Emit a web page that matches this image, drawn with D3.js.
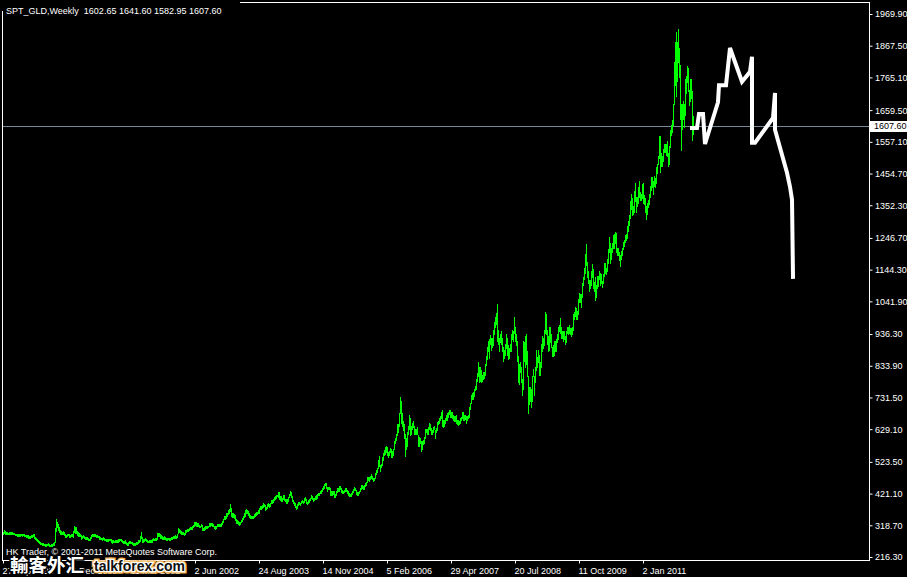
<!DOCTYPE html>
<html><head><meta charset="utf-8">
<script src="https://cdn.jsdelivr.net/npm/d3@7"></script>
<style>html,body{margin:0;padding:0;background:#000;overflow:hidden}svg{display:block}</style>
</head><body><svg id="c" width="907" height="577"></svg>
<script>
const chartTitle = "SPT_GLD,Weekly  1602.65 1641.60 1582.95 1607.60";
const copyright = "HK Trader, \u00a9 2001-2011 MetaQuotes Software Corp.";
const watermarkCn = "輸客外汇";
const watermarkEn = "talkforex.com";
const firstWeek = "27 Sep 1998";
// weekly lows / highs, one row per calendar year (1998 Q4 .. 2011)
const weekLow = [
290,293,290,290,289,289,290,292,292,291,290,289,287,286,
285,284,285,285,286,285,286,285,283,282,281,279,278,279,280,282,283,278,275,272,268,264,260,258,258,256,256,254,252,253,254,255,252,252,253,253,254,256,264,300,312,305,296,290,291,292,292,287,280,280,283,287,
280,280,283,283,282,298,295,293,288,285,285,283,276,277,280,277,274,274,275,271,270,272,278,284,285,285,283,281,280,280,275,274,273,272,274,272,270,268,268,268,270,270,266,263,264,264,265,264,265,266,268,270,268,
264,262,262,262,258,255,255,262,263,260,258,255,254,255,257,258,262,265,268,278,265,265,268,270,267,264,264,265,265,265,266,270,270,272,271,275,283,285,278,278,276,276,276,275,272,272,273,272,272,275,276,277,
277,278,279,280,293,296,293,292,290,290,288,291,298,300,300,302,306,306,308,312,318,320,318,318,315,312,312,315,305,302,305,308,310,310,312,318,318,320,318,315,310,308,310,316,318,316,316,316,322,330,340,340,
343,350,355,360,365,350,345,345,342,335,325,326,322,320,322,328,333,340,345,350,360,358,352,345,342,342,342,342,345,350,352,355,357,360,370,372,375,378,380,368,370,375,380,378,380,390,392,395,400,405,408,412,
410,405,400,397,398,402,400,396,390,392,398,410,418,410,396,390,385,378,372,375,385,388,384,390,393,390,395,400,392,388,390,395,400,406,403,398,400,405,405,408,415,418,422,424,430,435,440,448,440,430,435,435,
418,418,418,420,410,410,418,425,428,430,435,425,423,422,425,428,430,422,418,414,414,413,420,425,433,432,420,418,418,422,428,435,438,435,435,445,450,458,465,463,468,470,468,462,465,470,485,490,505,510,495,508,
512,530,545,550,555,545,540,545,555,538,540,545,565,585,595,610,620,640,680,650,640,625,600,542,565,575,615,630,610,615,630,635,615,615,612,615,575,575,585,560,565,580,585,600,620,612,615,630,625,615,615,620,630,
602,620,625,645,648,660,665,640,636,640,650,660,660,670,678,670,670,665,660,655,655,650,645,642,645,650,660,665,660,660,662,650,660,665,670,695,715,725,725,735,755,760,785,800,780,785,780,785,790,795,805,835,
855,880,860,905,885,895,900,935,960,970,915,905,880,910,905,880,850,860,870,890,870,855,860,880,880,920,915,940,915,900,850,780,775,815,780,740,760,850,830,840,800,680,710,720,700,720,800,740,780,820,830,845,
805,805,830,880,890,900,940,935,905,880,885,910,895,865,865,870,880,880,910,920,945,940,925,925,915,920,905,910,940,935,940,935,930,935,950,985,995,985,985,1000,1040,1040,1025,1055,1095,1115,1135,1160,1120,1100,1075,1085,
1095,1120,1085,1075,1045,1055,1085,1090,1115,1095,1100,1088,1100,1125,1135,1130,1140,1165,1200,1165,1180,1200,1215,1215,1230,1200,1190,1190,1175,1155,1180,1190,1210,1220,1235,1240,1245,1270,1290,1310,1340,1320,1325,1330,1365,1330,1350,1360,1380,1370,1370,1375,
1360,1355,1330,1308,1325,1345,1355,1380,1400,1410,1390,1415,1410,1425,1455,1485,1505,1460,1480,1480,1495,1525,1525,1515,1510,1478,1485,1540,1580,1590,1610,1680,1740,1705,1755,1815,1765,1630,1532,1600,1630,1605,1645,1715,1750,1720,1675,1690,1700,1562,1583
];
const weekHigh = [
297,302,299,297,296,295,296,298,297,296,295,294,292,291,
292,290,290,290,291,290,291,289,288,288,287,286,283,284,286,287,290,289,282,279,275,272,268,265,263,263,261,259,258,259,259,260,257,256,258,258,260,266,310,338,330,322,312,302,299,298,300,297,290,286,289,291,
292,288,290,292,300,316,312,312,300,296,293,290,287,285,286,283,280,280,282,277,276,280,288,292,292,292,290,288,286,285,283,280,279,277,280,278,276,276,275,274,276,276,273,270,270,269,270,270,272,273,273,275,275,
272,268,267,270,266,263,264,268,268,266,264,262,260,262,264,265,270,272,285,296,280,275,276,278,275,270,269,270,272,271,273,277,276,278,278,293,294,293,290,287,285,282,283,281,278,277,278,277,279,280,282,283,
283,286,285,290,311,306,303,300,298,298,295,303,305,306,306,309,312,313,315,320,328,330,328,326,325,320,318,322,320,310,312,315,315,317,318,325,325,327,325,322,318,315,318,322,324,322,322,325,332,340,350,348,
358,360,368,372,388,375,358,360,355,352,340,335,332,330,330,336,342,350,358,368,370,368,365,358,352,350,350,348,355,360,362,362,368,375,380,382,385,390,388,384,378,388,390,386,390,400,400,405,410,413,415,418,
427,425,412,412,408,418,418,405,402,402,410,420,428,425,412,400,394,392,382,388,393,395,392,398,400,397,408,410,405,395,400,402,408,415,412,407,408,412,418,420,422,424,430,432,440,445,452,456,455,443,442,442,
440,428,428,428,428,420,430,438,438,445,446,440,432,430,432,438,438,432,430,422,420,424,430,435,443,440,433,426,426,430,438,448,448,445,450,455,460,474,476,475,478,485,478,470,472,487,497,505,530,541,512,518,
540,552,562,570,576,570,555,560,568,565,560,565,590,600,615,645,645,680,732,720,680,655,645,615,600,620,640,675,665,640,650,655,638,630,630,635,610,605,600,590,590,595,605,630,630,630,635,650,645,632,625,635,640,
625,632,652,655,665,672,685,690,660,660,665,675,680,685,692,690,685,685,675,672,672,675,660,660,655,665,670,685,685,675,675,672,672,675,700,715,740,745,748,760,770,790,810,845,830,830,820,805,815,815,840,865,
895,915,920,932,925,925,950,975,990,1005,1032,950,925,935,945,925,895,885,905,935,925,900,890,905,935,950,945,990,960,935,915,865,840,845,830,790,915,912,930,935,880,800,765,765,760,800,825,800,830,885,862,885,
870,845,905,930,925,950,1007,1000,950,930,960,960,935,895,900,915,915,920,935,960,965,989,960,945,945,945,930,945,960,960,965,955,955,960,1000,1008,1025,1020,1010,1050,1070,1065,1065,1100,1120,1150,1195,1226,1170,1140,1110,1110,
1140,1162,1145,1105,1120,1095,1125,1125,1140,1135,1130,1108,1130,1165,1165,1150,1180,1210,1250,1230,1215,1230,1255,1260,1265,1262,1215,1215,1200,1190,1205,1215,1235,1240,1255,1260,1285,1300,1320,1365,1387,1375,1350,1398,1424,1380,1380,1410,1432,1395,1390,1422,
1425,1385,1375,1350,1360,1370,1390,1415,1445,1445,1430,1448,1440,1475,1485,1510,1577,1577,1520,1512,1535,1550,1550,1550,1560,1520,1545,1595,1610,1628,1680,1815,1880,1912,1880,1921,1860,1805,1680,1680,1690,1680,1760,1770,1803,1795,1725,1760,1760,1720,1642
];
const priceTicks = [216.30,318.70,421.10,523.50,629.10,731.50,833.90,936.30,1041.90,1144.30,1246.70,1352.30,1454.70,1557.10,1659.50,1765.10,1867.50,1969.90];
const dateLabels = ["27 Sep 1998","19 Dec 1999","11 Mar 2001","2 Jun 2002","24 Aug 2003","14 Nov 2004","5 Feb 2006","29 Apr 2007","20 Jul 2008","11 Oct 2009","2 Jan 2011"];
const currentPrice = 1607.60;
// hand-drawn white projection line: week index from first bar, price
const projWeek = [689,694,696,700,702,715,716,723,727,739,747,749,749,752,770,772,772,784,787,789,790];
const projPrice = [1602,1602,1647,1647,1550,1685,1740,1740,1860,1751,1783,1832,1554,1554,1634,1715,1596,1457,1412,1370,1121];

const svg = d3.select("#c");
const W = 907, H = 577;
const plot = {left: 2, right: 869, top: 2, bottom: 560};
const FONT = "'Liberation Sans', Arial, sans-serif";
const FS = 9;

svg.append("rect").attr("width", W).attr("height", H).attr("fill", "#000");

const parse = d3.timeParse("%d %b %Y");
const t0 = parse(firstWeek);
const weekOf = s => Math.round((parse(s) - t0) / 6048e5);
const labelWeeks = dateLabels.map(weekOf);

const x = d3.scaleLinear().domain([0, labelWeeks[labelWeeks.length - 1]]).range([3, 643]);
const y = d3.scaleLinear().domain([priceTicks[0], priceTicks[priceTicks.length - 1]]).range([557, 14]);

// frame
svg.append("rect").attr("x", plot.left + 0.5).attr("y", plot.top + 0.5)
  .attr("width", plot.right - plot.left).attr("height", plot.bottom - plot.top)
  .attr("fill", "none").attr("stroke", "#fff").attr("stroke-width", 1);

// current price line
svg.append("line").attr("x1", plot.left + 1).attr("x2", plot.right)
  .attr("y1", Math.round(y(currentPrice)) + 0.5).attr("y2", Math.round(y(currentPrice)) + 0.5)
  .attr("stroke", "#778899").attr("stroke-width", 1);

// weekly bars
const n = Math.min(weekLow.length, weekHigh.length);
const bars = d3.range(n).map(i => ({i, lo: weekLow[i], hi: weekHigh[i]}));
svg.append("g").selectAll("line").data(bars).join("line")
  .attr("x1", d => Math.round(x(d.i)) + 0.5).attr("x2", d => Math.round(x(d.i)) + 0.5)
  .attr("y1", d => Math.round(y(d.hi)))
  .attr("y2", d => Math.max(Math.round(y(d.lo)), Math.round(y(d.hi)) + 1) + 1)
  .attr("stroke", "#00ff00").attr("stroke-width", 1)
  .attr("shape-rendering", "crispEdges");

// projection line
const proj = projWeek.map((w, k) => ({w, p: projPrice[k]}));
svg.append("path").datum(proj)
  .attr("d", d3.line().x(d => x(d.w)).y(d => y(d.p)))
  .attr("fill", "none").attr("stroke", "#fff").attr("stroke-width", 4)
  .attr("stroke-linejoin", "miter").attr("stroke-linecap", "square");

// right price axis
const yAxis = svg.append("g").attr("transform", `translate(${plot.right + 0.5},0)`)
  .call(d3.axisRight(y).tickValues(priceTicks).tickSize(3).tickPadding(2.5).tickFormat(d3.format(".2f")));
yAxis.select(".domain").remove();
yAxis.selectAll("line").attr("stroke", "#fff");
yAxis.selectAll("text").attr("fill", "#fff").attr("font-family", FONT).attr("font-size", FS);

// current price tag
const cp = Math.round(y(currentPrice));
svg.append("rect").attr("x", plot.right + 1).attr("y", cp - 5).attr("width", 37).attr("height", 11).attr("fill", "#fff");
svg.append("text").attr("x", plot.right + 5).attr("y", cp).attr("dy", "0.35em")
  .attr("fill", "#000").attr("font-family", FONT).attr("font-size", FS)
  .text(d3.format(".2f")(currentPrice));

// bottom date axis
const xAxis = svg.append("g").attr("transform", `translate(0,${plot.bottom + 0.5})`)
  .call(d3.axisBottom(x).tickValues(labelWeeks).tickSize(3).tickPadding(4).tickFormat((d, k) => dateLabels[k]));
xAxis.select(".domain").remove();
xAxis.selectAll("line").attr("stroke", "#fff");
xAxis.selectAll("text").attr("fill", "#fff").attr("font-family", FONT).attr("font-size", FS)
  .attr("text-anchor", "start").attr("dx", -1);

// title
svg.append("rect").attr("x", 0).attr("y", 0).attr("width", 240).attr("height", 11).attr("fill", "#000");
svg.append("text").attr("x", 6).attr("y", 14).attr("fill", "#fff")
  .attr("font-family", FONT).attr("font-size", FS).attr("xml:space", "preserve")
  .style("white-space", "pre").text(chartTitle);

// copyright
svg.append("text").attr("x", 6).attr("y", 555).attr("fill", "#fff")
  .attr("font-family", FONT).attr("font-size", FS).text(copyright);

// watermark
svg.append("text").attr("x", 10).attr("y", 572)
  .attr("font-family", "'Noto Sans CJK TC','Noto Sans CJK SC',sans-serif").attr("font-weight", 700)
  .attr("font-size", 18.5).attr("fill", "#fff").attr("stroke", "#000").attr("stroke-width", 3)
  .attr("paint-order", "stroke").text(watermarkCn);
svg.append("text").attr("x", 94).attr("y", 571)
  .attr("font-family", FONT).attr("font-weight", 700).attr("font-size", 14)
  .attr("fill", "#111").attr("stroke", "#f0b050").attr("stroke-width", 5)
  .attr("paint-order", "stroke").text(watermarkEn);
svg.append("text").attr("x", 94).attr("y", 571)
  .attr("font-family", FONT).attr("font-weight", 700).attr("font-size", 14)
  .attr("fill", "#111").attr("stroke", "#fff").attr("stroke-width", 2.5)
  .attr("paint-order", "stroke").text(watermarkEn);
</script></body></html>
